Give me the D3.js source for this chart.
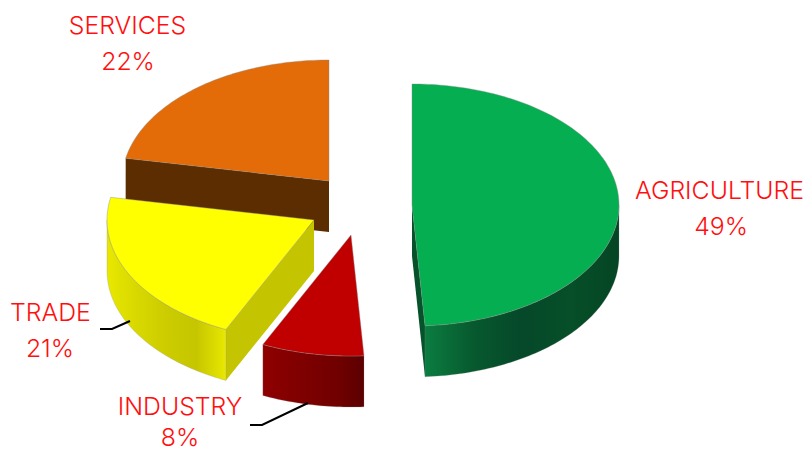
<!DOCTYPE html>
<html>
<head>
<meta charset="utf-8">
<style>
html,body{margin:0;padding:0;background:#fff;overflow:hidden}
svg{display:block}
text{font-family:"Inter",sans-serif;font-weight:300;font-size:24.8px;fill:#ff0f0f;text-anchor:middle}
</style>
<script src="https://cdn.jsdelivr.net/npm/d3@7/dist/d3.min.js"></script>
</head>
<body>
<script>
// Sector shares, clockwise from twelve o'clock
const categories = ["AGRICULTURE", "INDUSTRY", "TRADE", "SERVICES"];
const shares = [49, 8, 21, 22];

// Appearance of each sector: top face, radial wall, curved wall stops left to right
const topColors = ["#05ae50", "#c00000", "#ffff00", "#e36c09"];
const wallColors = ["#06522a", "#7a0000", "#c4c400", "#5c2d00"];
const rimStops = [
  ["#0b7d41", "#07592e", "#05482a", "#064f28", "#054524"],
  ["#8f0000", "#840000", "#7a0000", "#700000", "#5c0000"],
  ["#e8e800", "#d8d800", "#cccc00", "#c6c600", "#e8e800"],
  ["#5c2d00", "#5c2d00", "#5c2d00", "#5c2d00", "#5c2d00"]
];

// Exploded apex of each sector on the page
const apexX = [412, 351, 314, 329];
const apexY = [205, 235, 220, 181];

// Label anchors (name line, share line) and leader polylines
const nameX = [719.5, 180, 50.5, 127.5];
const nameY = [199, 415, 321, 33.5];
const shareX = [721, 180, 50, 128];
const shareY = [235, 446, 357, 70];
const leaders = [
  [[250, 425], [262, 425], [308, 403]],
  [[100, 329], [112, 329], [130, 321]]
];

const width = 809, height = 452;
const rx = 207, ry = 121, depth = 51;

const svg = d3.select("body").append("svg")
  .attr("width", width).attr("height", height);
const defs = svg.append("defs");

const pie = d3.pie().sort(null).startAngle(0).endAngle(2 * Math.PI);
const arcs = pie(shares);

const unitX = d3.scaleLinear().domain([0, 1]).range([0, rx]);
const unitY = d3.scaleLinear().domain([0, 1]).range([0, ry]);

// Ellipse projection of a polar position around a sector's apex
function project(i, angle, r, drop) {
  return [
    apexX[i] + unitX(r * Math.sin(angle)),
    apexY[i] - unitY(r * Math.cos(angle)) + drop
  ];
}
function rimPoints(i, a0, a1, drop) {
  const n = Math.max(2, Math.ceil((a1 - a0) / 0.02));
  return d3.range(n + 1).map(k => project(i, a0 + (a1 - a0) * k / n, 1, drop));
}
const path = d3.line();
const closed = pts => path(pts) + "Z";

// Back to front, so nearer sectors overlap farther ones
const drawOrder = [3, 2, 0, 1];

drawOrder.forEach(i => {
  const { startAngle: a0, endAngle: a1 } = arcs[i];
  const g = svg.append("g").attr("class", "slice");

  // Radial walls facing the viewer
  [[a0, Math.sin(a0) < -1e-6], [a1, Math.sin(a1) > 1e-6]].forEach(([a, visible]) => {
    if (!visible) return;
    g.append("path")
      .attr("d", closed([
        project(i, a, 0, 0), project(i, a, 0, depth),
        project(i, a, 1, depth), project(i, a, 1, 0)
      ]))
      .attr("fill", wallColors[i]);
  });

  // Curved outer wall on the near half of the ellipse
  const v0 = Math.max(a0, Math.PI / 2), v1 = Math.min(a1, 3 * Math.PI / 2);
  if (v1 > v0) {
    const upper = rimPoints(i, v0, v1, 0);
    const lower = rimPoints(i, v0, v1, depth).reverse();
    const xs = d3.extent(upper, p => p[0]);
    const id = "rim" + i;
    const grad = defs.append("linearGradient").attr("id", id)
      .attr("gradientUnits", "userSpaceOnUse")
      .attr("x1", xs[0]).attr("x2", xs[1]).attr("y1", 0).attr("y2", 0);
    rimStops[i].forEach((c, k, all) =>
      grad.append("stop").attr("offset", k / (all.length - 1)).attr("stop-color", c));
    g.append("path").attr("d", closed(upper.concat(lower)))
      .attr("fill", `url(#${id})`)
      .attr("stroke", "#888").attr("stroke-opacity", 0.35).attr("stroke-width", 0.7);
  }

  // Top face
  g.append("path")
    .attr("d", closed([project(i, a0, 0, 0)].concat(rimPoints(i, a0, a1, 0))))
    .attr("fill", topColors[i])
    .attr("stroke", "#8a8a8a").attr("stroke-opacity", 0.4).attr("stroke-width", 1);
});

// Leader lines
svg.selectAll("path.leader").data(leaders).join("path")
  .attr("class", "leader")
  .attr("d", d => path(d))
  .attr("fill", "none").attr("stroke", "#000").attr("stroke-width", 2);

// Two-line labels: name, then share
const labels = svg.selectAll("g.label").data(categories).join("g").attr("class", "label");
labels.append("text").attr("x", (d, i) => nameX[i]).attr("y", (d, i) => nameY[i]).text(d => d);
labels.append("text").attr("x", (d, i) => shareX[i]).attr("y", (d, i) => shareY[i])
  .text((d, i) => shares[i] + "%");
</script>
</body>
</html>
